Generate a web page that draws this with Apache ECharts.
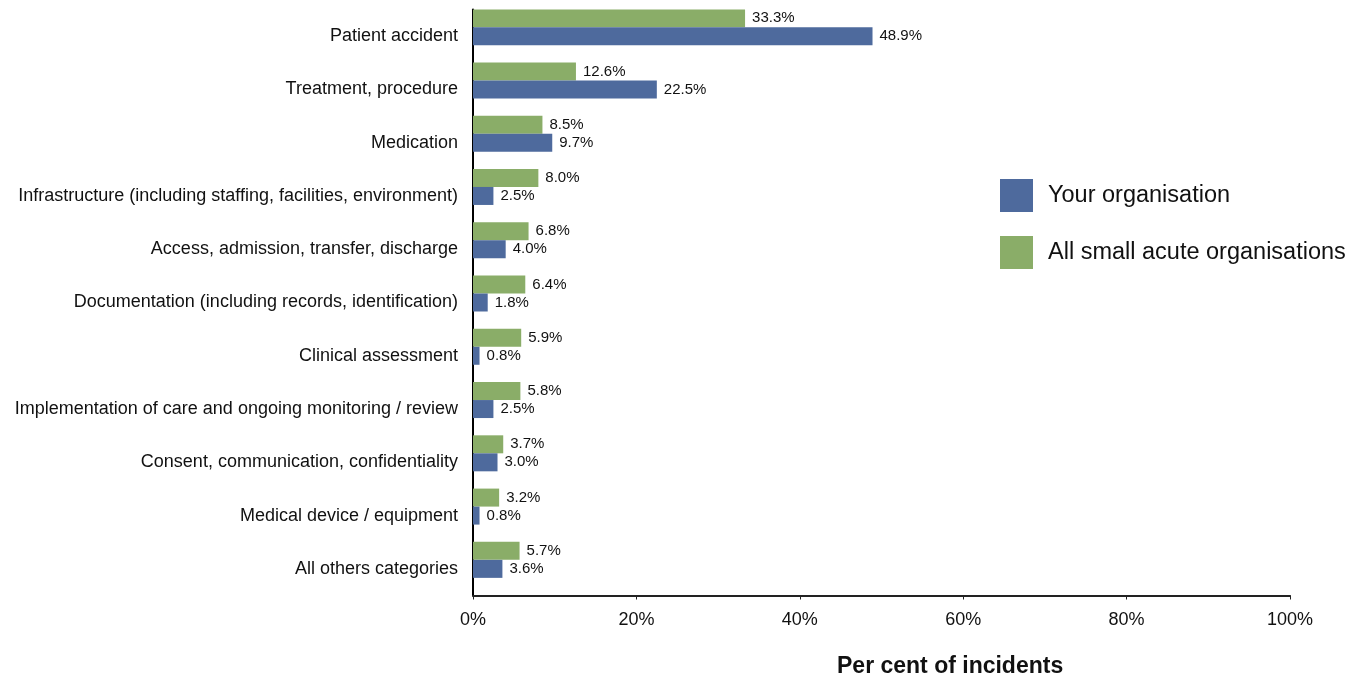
<!DOCTYPE html>
<html>
<head>
<meta charset="utf-8">
<script src="https://cdn.jsdelivr.net/npm/echarts@6/dist/echarts.min.js"></script>
<style>
  html, body { margin: 0; padding: 0; background: #fff; }
  #main { width: 1364px; height: 681px; }
</style>
</head>
<body>
<div id="main"></div>
<script>
const categories = [
  'Patient accident',
  'Treatment, procedure',
  'Medication',
  'Infrastructure (including staffing, facilities, environment)',
  'Access, admission, transfer, discharge',
  'Documentation (including records, identification)',
  'Clinical assessment',
  'Implementation of care and ongoing monitoring / review',
  'Consent, communication, confidentiality',
  'Medical device / equipment',
  'All others categories'
];
const yourOrg = [48.9, 22.5, 9.7, 2.5, 4.0, 1.8, 0.8, 2.5, 3.0, 0.8, 3.6];
const allSmallAcute = [33.3, 12.6, 8.5, 8.0, 6.8, 6.4, 5.9, 5.8, 3.7, 3.2, 5.7];
const xTicks = [0, 20, 40, 60, 80, 100];

const font = 'Liberation Sans, Arial, sans-serif';
const blue = '#4e6a9d';
const green = '#8aad68';

const chart = echarts.init(document.getElementById('main'));

const barLabel = {
  show: true,
  position: 'right',
  distance: 7,
  color: '#111',
  fontFamily: font,
  fontSize: 15,
  formatter: p => p.value.toFixed(1) + '%'
};

const option = {
  animation: false,
  textStyle: { fontFamily: font },
  grid: { left: 473, right: 74, top: 9.5, bottom: 85.5, containLabel: false },
  legend: {
    orient: 'vertical',
    left: 995,
    top: 174,
    itemWidth: 33,
    itemHeight: 33,
    itemGap: 24,
    icon: 'rect',
    data: ['Your organisation', 'All small acute organisations'],
    textStyle: { fontFamily: font, fontSize: 23.5, color: '#111', padding: [0, 0, 0, 10] }
  },
  xAxis: {
    type: 'value',
    min: xTicks[0],
    max: xTicks[xTicks.length - 1],
    interval: 20,
    axisLine: { show: true, lineStyle: { color: '#222', width: 2 } },
    axisTick: { show: true, length: 4, lineStyle: { color: '#222' } },
    splitLine: { show: false },
    axisLabel: { fontSize: 18, color: '#111', margin: 16, formatter: '{value}%' }
  },
  yAxis: {
    type: 'category',
    data: categories,
    inverse: true,
    axisLine: { show: true, lineStyle: { color: '#000', width: 2 } },
    axisTick: { show: false },
    axisLabel: { fontSize: 18, color: '#111', margin: 15 }
  },
  graphic: [{
    type: 'text',
    left: 837,
    top: 655,
    style: { text: 'Per cent of incidents', fontFamily: font, fontSize: 23, fontWeight: 'bold', fill: '#111' }
  }],
  series: [
    {
      name: 'All small acute organisations',
      type: 'bar',
      data: allSmallAcute,
      barWidth: 18,
      barGap: '0%',
      itemStyle: { color: green },
      label: barLabel
    },
    {
      name: 'Your organisation',
      type: 'bar',
      data: yourOrg,
      barWidth: 18,
      barGap: '0%',
      itemStyle: { color: blue },
      label: barLabel
    },
    {
      // empty slot so the pair sits above the label line, as in the original
      name: 'spacer',
      type: 'bar',
      data: [],
      barWidth: 18,
      barGap: '0%',
      silent: true
    }
  ]
};

chart.setOption(option);
</script>
</body>
</html>
